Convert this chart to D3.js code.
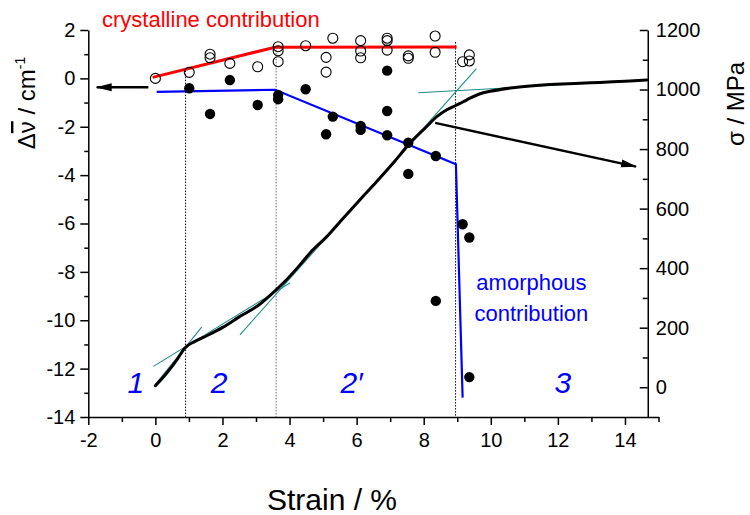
<!DOCTYPE html>
<html>
<head>
<meta charset="utf-8">
<script src="https://cdn.jsdelivr.net/npm/d3@7"></script>
<style>
  html, body { margin: 0; padding: 0; background: #fff; }
  svg { display: block; font-family: "Liberation Sans", Arial, sans-serif; }
</style>
</head>
<body>
<svg id="chart" width="750" height="515"></svg>
<script>
// ---------- data ----------
// open circles: crystalline band shift (left axis)
const openStrain = [0, 1.01, 1.63, 1.63, 2.22, 3.05, 3.66, 3.66, 3.66, 4.48, 5.09, 5.09, 5.29,
                    6.12, 6.12, 6.12, 6.91, 6.91, 6.91, 7.54, 7.54, 8.34, 8.34, 9.16, 9.36, 9.36];
const openShift  = [0.0, 0.25, 1.0, 0.85, 0.62, 0.48, 1.31, 1.14, 0.69, 1.35, 0.87, 0.26, 1.66,
                    1.56, 1.13, 0.85, 1.66, 1.56, 1.17, 0.93, 0.83, 1.75, 1.08, 0.69, 0.97, 0.72];
// filled circles: amorphous band shift (left axis)
const filledStrain = [1.01, 1.63, 2.22, 3.05, 3.66, 3.66, 4.48, 5.09, 5.29, 6.12, 6.12,
                      6.91, 6.91, 6.91, 7.54, 7.54, 8.36, 8.36, 9.16, 9.36, 9.36];
const filledShift  = [-0.41, -1.47, -0.07, -1.10, -0.69, -0.86, -0.45, -2.31, -1.58, -1.97, -2.13,
                      0.32, -1.35, -2.35, -2.66, -3.95, -3.21, -9.2, -6.03, -6.58, -12.35];
// crystalline contribution trend (red)
const crystStrain = [-0.08, 3.57, 8.98];
const crystShift  = [0.04, 1.29, 1.30];
// amorphous contribution trend (blue)
const amorphStrain = [0.04, 3.57, 8.96, 9.16];
const amorphShift  = [-0.56, -0.47, -3.55, -13.2];
// stress-strain curve (right axis, MPa)
const curveStrain = [0.0, 0.34, 0.64, 0.88, 1.18, 1.53, 2.02, 2.52, 3.02, 3.51, 3.91, 4.31, 4.61,
                     5.11, 5.60, 6.10, 6.60, 7.09, 7.59, 8.09, 8.39, 8.69, 8.98, 9.18, 9.38, 9.68,
                     9.98, 10.66, 11.65, 12.66, 13.25, 13.64, 14.15, 14.65];
const curveStress = [5, 48, 92, 132, 154, 173, 202, 238, 271, 318, 361, 411, 451,
                     506, 568, 630, 691, 753, 820, 876, 909, 932, 948, 959, 971, 986,
                     994, 1006, 1016, 1021, 1024, 1026, 1029, 1032];
// tangent lines (right axis): [strain0, MPa0, strain1, MPa1]
const tangents = [
  [-0.01, 8, 1.38, 202],
  [-0.06, 70, 4.01, 350],
  [2.52, 176, 9.57, 1070],
  [7.84, 989, 14.65, 1032]
];
// region boundaries (dotted): strain, top value (left axis)
const boundStrain = [0.90, 3.60, 8.95];
const boundTop    = [0.32, 1.30, 1.50];
// tick values
const xTicks  = [-2, 0, 2, 4, 6, 8, 10, 12, 14];
const xMinor  = [-1, 1, 3, 5, 7, 9, 11, 13, 15];
const yLTicks = [2, 0, -2, -4, -6, -8, -10, -12, -14];
const yLMinor = [1, -1, -3, -5, -7, -9, -11, -13];
const yRTicks = [0, 200, 400, 600, 800, 1000, 1200];
const yRMinor = [100, 300, 500, 700, 900, 1100];
// region labels
const regionText   = ["1", "2", "2\u2032", "3"];
const regionStrain = [-0.58, 1.9, 5.85, 12.15];

// ---------- layout ----------
const svg = d3.select("#chart");
const x  = d3.scaleLinear().domain([-2, 15]).range([88.3, 658.5]);
const yL = d3.scaleLinear().domain([-14, 2]).range([417, 30]);
const yR = d3.scaleLinear().domain([-100, 1200]).range([417, 30]);
const rightAxisStrain = 14.68;
const font = '"Liberation Sans", Arial, sans-serif';
const teal = "#1f8c8c";
const fmt = d => String(d);

function styleAxis(g, size) {
  g.selectAll("path.domain").attr("stroke", "#000").attr("stroke-width", 1.5);
  g.selectAll(".tick line").attr("stroke", "#000").attr("stroke-width", 1.5);
  g.selectAll(".tick text").attr("fill", "#000").style("font-size", size + "px").style("font-family", font);
}

// bottom axis
const gx = svg.append("g").attr("transform", "translate(0,417)")
  .call(d3.axisBottom(x).tickValues(xTicks).tickFormat(fmt).tickSize(8).tickSizeOuter(0).tickPadding(8));
styleAxis(gx, 20);
const gxm = svg.append("g").attr("transform", "translate(0,417)")
  .call(d3.axisBottom(x).tickValues(xMinor).tickFormat("").tickSize(5).tickSizeOuter(0));
gxm.select("path.domain").remove();
styleAxis(gxm, 20);

// left axis
const gl = svg.append("g").attr("transform", "translate(88.3,0)")
  .call(d3.axisLeft(yL).tickValues(yLTicks).tickFormat(fmt).tickSize(8).tickSizeOuter(0).tickPadding(5));
styleAxis(gl, 20);
const glm = svg.append("g").attr("transform", "translate(88.3,0)")
  .call(d3.axisLeft(yL).tickValues(yLMinor).tickFormat("").tickSize(4).tickSizeOuter(0));
glm.select("path.domain").remove();
styleAxis(glm, 20);

// right axis (ticks inward)
const rx = x(rightAxisStrain);
const gr = svg.append("g").attr("transform", `translate(${rx},0)`)
  .call(d3.axisRight(yR).tickValues(yRTicks).tickFormat(fmt).tickSize(-8).tickSizeOuter(0).tickPadding(8));
styleAxis(gr, 20);
const grm = svg.append("g").attr("transform", `translate(${rx},0)`)
  .call(d3.axisRight(yR).tickValues(yRMinor).tickFormat("").tickSize(-5).tickSizeOuter(0));
grm.select("path.domain").remove();
styleAxis(grm, 20);

// dotted region boundaries
svg.append("g").selectAll("line").data(boundStrain).join("line")
  .attr("x1", d => x(d)).attr("x2", d => x(d))
  .attr("y1", (d, i) => yL(boundTop[i])).attr("y2", yL(-14))
  .attr("stroke", (d, i) => i === 1 ? "#666" : "#000")
  .attr("stroke-width", 1).attr("stroke-dasharray", "1.5,1.5");

// tangent lines
svg.append("g").selectAll("line").data(tangents).join("line")
  .attr("x1", d => x(d[0])).attr("y1", d => yR(d[1]))
  .attr("x2", d => x(d[2])).attr("y2", d => yR(d[3]))
  .attr("stroke", teal).attr("stroke-width", 1.1);

// stress curve
const curve = curveStrain.map((s, i) => [s, curveStress[i]]);
svg.append("path").datum(curve)
  .attr("d", d3.line().curve(d3.curveMonotoneX).x(d => x(d[0])).y(d => yR(d[1])))
  .attr("fill", "none").attr("stroke", "#000").attr("stroke-width", 3)
  .attr("stroke-linejoin", "round").attr("stroke-linecap", "round");

// red crystalline trend
svg.append("path").datum(crystStrain.map((s, i) => [s, crystShift[i]]))
  .attr("d", d3.line().x(d => x(d[0])).y(d => yL(d[1])))
  .attr("fill", "none").attr("stroke", "#ff0000").attr("stroke-width", 3);

// blue amorphous trend
svg.append("path").datum(amorphStrain.map((s, i) => [s, amorphShift[i]]))
  .attr("d", d3.line().x(d => x(d[0])).y(d => yL(d[1])))
  .attr("fill", "none").attr("stroke", "#0000ff").attr("stroke-width", 2.2);

// points
svg.append("g").selectAll("circle").data(openStrain.map((s, i) => [s, openShift[i]])).join("circle")
  .attr("cx", d => x(d[0])).attr("cy", d => yL(d[1])).attr("r", 5)
  .attr("fill", "none").attr("stroke", "#000").attr("stroke-width", 1.1);
svg.append("g").selectAll("circle").data(filledStrain.map((s, i) => [s, filledShift[i]])).join("circle")
  .attr("cx", d => x(d[0])).attr("cy", d => yL(d[1])).attr("r", 5.2)
  .attr("fill", "#000");

// arrows
const defs = svg.append("defs");
defs.append("marker").attr("id", "ah").attr("viewBox", "0 0 16 10")
  .attr("refX", 15).attr("refY", 5).attr("markerWidth", 16).attr("markerHeight", 10)
  .attr("markerUnits", "userSpaceOnUse").attr("orient", "auto")
  .append("path").attr("d", "M0,1 L16,5 L0,9 Z").attr("fill", "#000");
// left arrow (points to left axis)
svg.append("line")
  .attr("x1", x(-0.21)).attr("y1", yL(-0.37)).attr("x2", x(-1.75)).attr("y2", yL(-0.37))
  .attr("stroke", "#000").attr("stroke-width", 2.5).attr("marker-end", "url(#ah)");
// right arrow (points to right axis)
svg.append("line")
  .attr("x1", x(8.34)).attr("y1", yR(888)).attr("x2", x(14.33)).attr("y2", yR(741))
  .attr("stroke", "#000").attr("stroke-width", 2.5).attr("marker-end", "url(#ah)");

// annotation texts
svg.append("text").attr("x", x(-1.59)).attr("y", 27)
  .attr("fill", "#ff0000").style("font-size", "22px").text("crystalline contribution");
const am = svg.append("text").attr("text-anchor", "middle").attr("fill", "#0000ff").style("font-size", "22px");
am.append("tspan").attr("x", x(11.21)).attr("y", yL(-8.75)).text("amorphous");
am.append("tspan").attr("x", x(11.21)).attr("y", yL(-10.03)).text("contribution");

svg.append("g").selectAll("text").data(regionText).join("text")
  .attr("x", (d, i) => x(regionStrain[i])).attr("y", yL(-13.0))
  .attr("text-anchor", "middle").attr("fill", "#0000ff")
  .style("font-size", "30px").style("font-style", "italic").text(d => d);

// axis titles
svg.append("text").attr("x", 332).attr("y", 510).attr("text-anchor", "middle")
  .style("font-size", "30px").text("Strain / %");

const yt = svg.append("text").attr("transform", "translate(35,103) rotate(-90)")
  .attr("text-anchor", "middle").style("font-size", "24px");
yt.append("tspan").text("\u0394");
yt.append("tspan").style("text-decoration", "overline").text("\u03BD");
yt.append("tspan").text(" / cm");
yt.append("tspan").attr("dy", -10).style("font-size", "14px").text("-1");

svg.append("text").attr("transform", "translate(744,104) rotate(-90)")
  .attr("text-anchor", "middle").style("font-size", "24px").text("\u03C3 / MPa");
</script>
</body>
</html>
